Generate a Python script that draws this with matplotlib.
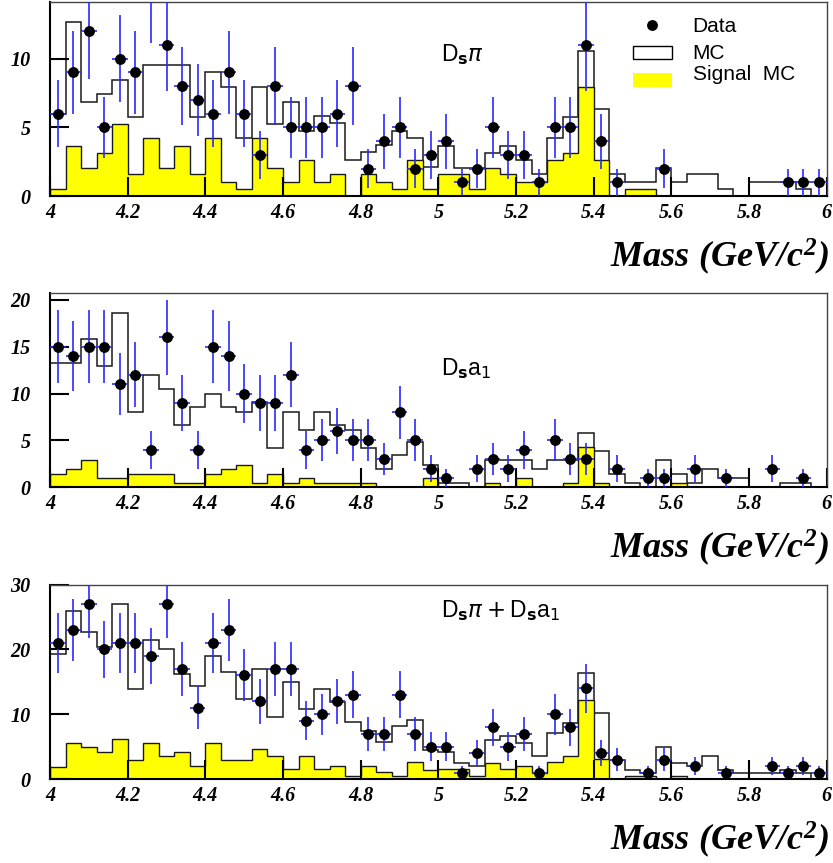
import matplotlib
matplotlib.use('Agg')
import matplotlib.pyplot as plt
import numpy as np
from matplotlib.patches import Rectangle
from matplotlib.lines import Line2D
from matplotlib.ticker import FormatStrFormatter

# 50 bins of 40 MeV between 4 and 6 GeV/c^2
edges = np.linspace(4.0, 6.0, 51)
centers = 0.5 * (edges[:-1] + edges[1:])

# Ds pi channel
data_dspi = [6, 9, 12, 5, 10, 9, 15, 11, 8, 7, 6, 9, 6, 3, 8, 5, 5, 5, 6, 8,
             2, 4, 5, 2, 3, 4, 1, 2, 5, 3, 3, 1, 5, 5, 11, 4, 1, 0, 0, 2,
             0, 0, 0, 0, 0, 0, 0, 1, 1, 1]
mc_dspi = [6.0, 12.7, 6.86, 7.42, 8.47, 5.79, 9.51, 9.51, 9.51, 5.79,
           9.03, 7.93, 4.2, 7.93, 5.28, 6.88, 4.74, 5.84, 5.3, 2.63,
           3.19, 3.7, 4.74, 4.2, 2.1, 3.67, 2.07, 2.07, 3.16, 3.67,
           2.6, 1.58, 4.2, 5.79, 10.6, 6.37, 1.58, 1.0, 1.0, 2.07,
           1.0, 1.58, 1.58, 0.5, 0.0, 1.0, 1.0, 1.0, 0.5, 0.0]
sig_dspi = [0.5, 3.67, 2.07, 3.16, 5.28, 1.58, 4.2, 2.07, 3.67, 1.58,
            4.2, 1.0, 0.5, 4.2, 2.07, 1.05, 2.63, 1.05, 1.58, 0.0,
            1.58, 1.05, 0.5, 2.63, 0.5, 1.58, 1.58, 0.5, 2.07, 1.58,
            1.0, 1.0, 2.6, 3.1, 7.93, 2.6, 0.0, 0.5, 0.5, 0.0,
            0, 0, 0, 0, 0, 0, 0, 0, 0, 0]

# Ds a1 channel
data_dsa1 = [15, 14, 15, 15, 11, 12, 4, 16, 9, 4, 15, 14, 10, 9, 9, 12, 4, 5, 6, 5,
             5, 3, 8, 5, 2, 1, 0, 2, 3, 2, 4, 0, 5, 3, 3, 0, 2, 0, 1, 1,
             0, 2, 0, 1, 0, 0, 2, 0, 1, 0]
mc_dsa1 = [13.3, 13.3, 15.8, 12.9, 18.6, 8.08, 12.0, 10.5, 6.65, 8.58,
           10.0, 8.58, 8.08, 9.07, 4.23, 8.08, 6.12, 8.08, 6.65, 6.12,
           4.23, 1.96, 3.45, 4.88, 2.38, 0.43, 0.43, 0.0, 2.92, 2.92,
           2.92, 1.96, 2.92, 2.92, 5.77, 3.88, 1.42, 0.43, 0.0, 2.92,
           1.42, 0.43, 1.96, 0.96, 0.96, 0.0, 0.0, 0.43, 0.43, 0.0]
sig_dsa1 = [1.42, 1.96, 2.92, 0.96, 0.96, 1.42, 1.42, 1.42, 0.43, 0.43,
            1.42, 1.96, 2.38, 0.43, 1.42, 0.43, 0.96, 0.43, 0.43, 0.43,
            0.43, 0.0, 0.0, 0.0, 0.96, 0.0, 0.0, 0.0, 0.43, 0.0,
            0.96, 0.0, 0.0, 0.43, 4.27, 0.43, 0.0, 0.0, 0.0, 0.0,
            0.43, 0, 0, 0, 0, 0, 0, 0, 0, 0]

# combined sample
data_sum = np.add(data_dspi, data_dsa1)
mc_sum = np.add(mc_dspi, mc_dsa1)
sig_sum = np.add(sig_dspi, sig_dsa1)

plt.rcParams['mathtext.fontset'] = 'dejavusans'
plt.rcParams['mathtext.rm'] = 'Liberation Serif:bold:italic'
plt.rcParams['mathtext.it'] = 'Liberation Serif:bold:italic'
plt.rcParams['mathtext.bf'] = 'Liberation Serif:bold:italic'

W, H = 833, 863
fig = plt.figure(figsize=(W / 100, H / 100), dpi=100)


def fx(px):
    return px / W


def fy(py):
    return 1 - py / H


def draw(top, bottom, data, mc, sig, ymax, yticks, title, label_y):
    ax = fig.add_axes([fx(50), fy(bottom), fx(826.7 - 50), (bottom - top) / H])
    ax.stairs(mc, edges, color='#1a1a1a', lw=1.1, zorder=1)
    ax.stairs(sig, edges, fill=True, color='#ffff00', zorder=1.2)
    ax.stairs(sig, edges, color='#1a1a1a', lw=1.0, zorder=1.3)

    d = np.asarray(data, dtype=float)
    ok = d > 0
    ax.errorbar(centers[ok], d[ok], yerr=np.sqrt(d[ok]), xerr=0.02, fmt='none',
                ecolor='#2a2aff', elinewidth=1.2, capsize=0, zorder=3)
    ax.plot(centers[ok], d[ok], 'o', color='black', ms=6.8, zorder=4)

    ax.set_xlim(4, 6)
    ax.set_ylim(0, ymax)
    ax.set_xticks(np.arange(4, 6.01, 0.2))
    ax.set_yticks(yticks)
    ax.xaxis.set_major_formatter(FormatStrFormatter('%g'))
    ax.tick_params(direction='in', length=14, width=1.5, top=False, right=False,
                   labelsize=14.5)
    ax.tick_params(axis='x', pad=5)
    ax.tick_params(axis='y', pad=14)
    for t in ax.get_xticklabels() + ax.get_yticklabels():
        t.set_fontfamily('Liberation Serif')
        t.set_fontweight('bold')
        t.set_fontstyle('italic')
    for s in ['left', 'bottom']:
        ax.spines[s].set_linewidth(1.5)
    for s in ['top', 'right']:
        ax.spines[s].set_linewidth(1.0)
        ax.spines[s].set_color('#444444')

    fig.text(fx(441), fy(label_y), title, fontsize=16.5, family='Liberation Sans',
             va='baseline', ha='left')
    fig.text(fx(829), fy(bottom + 71), r'$Mass\ (GeV/c^{2})$', math_fontfamily='custom',
             fontsize=26, ha='right', va='baseline')
    return ax


draw(2.5, 196, data_dspi, mc_dspi, sig_dspi, 14.1, [0, 5, 10],
     r'D$_{\mathbf{s}}\pi$', 61)
draw(293.3, 487.3, data_dsa1, mc_dsa1, sig_dsa1, 20.7, [0, 5, 10, 15, 20],
     r'D$_{\mathbf{s}}$a$_{1}$', 375)
draw(584.7, 779, data_sum, mc_sum, sig_sum, 30, [0, 10, 20, 30],
     r'D$_{\mathbf{s}}\pi+$D$_{\mathbf{s}}$a$_{1}$', 617)

# legend of the top panel
fig.add_artist(Line2D([fx(651.7)], [fy(25)], marker='o', color='black', ms=6.8,
                      transform=fig.transFigure))
fig.add_artist(Rectangle((fx(632.7), fy(59.3)), fx(39), 13.6 / H, facecolor='white',
                         edgecolor='black', lw=1.0, transform=fig.transFigure))
fig.add_artist(Rectangle((fx(632.7), fy(86.7)), fx(39), 14 / H, facecolor='#ffff00',
                         edgecolor='none', transform=fig.transFigure))
for txt, by in [('Data', 32), ('MC', 59), ('Signal  MC', 80)]:
    fig.text(fx(692.7), fy(by), txt, fontsize=15, family='Liberation Sans',
             va='baseline', ha='left')

fig.savefig('out.png', dpi=100)
